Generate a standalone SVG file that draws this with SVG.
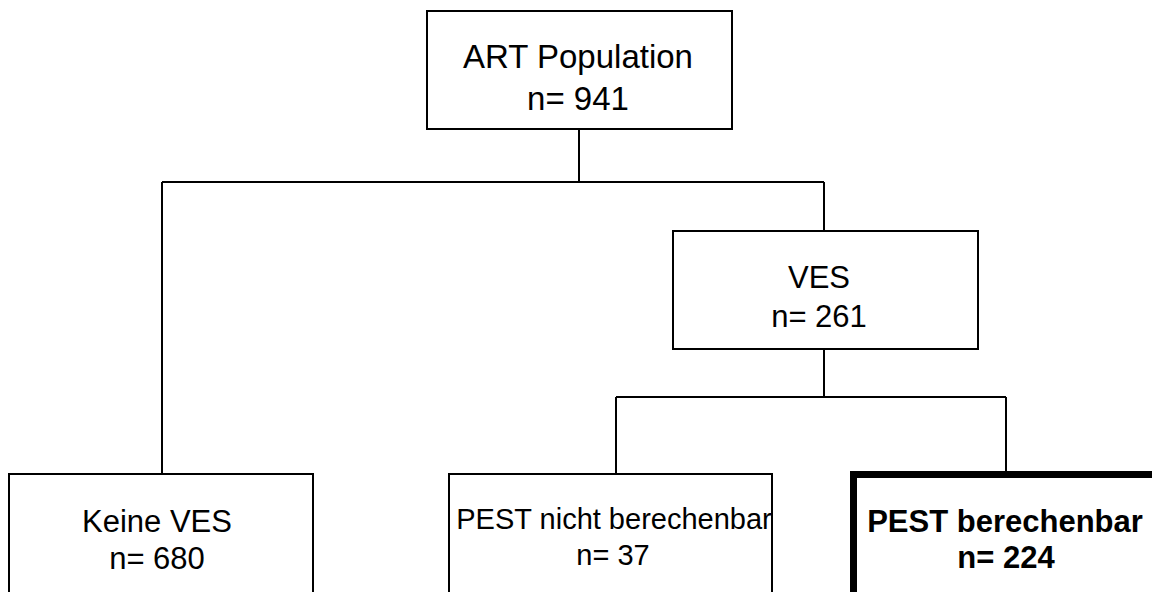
<svg xmlns="http://www.w3.org/2000/svg" width="1152" height="592" viewBox="0 0 1152 592">
<style>
.box{fill:#fff;stroke:#000;stroke-width:2}
.thick{fill:#fff;stroke:#000;stroke-width:7}
.conn{fill:none;stroke:#000;stroke-width:2}
text{font-family:"Liberation Sans",Arial,sans-serif;fill:#000;text-anchor:middle}
</style>
<rect width="1152" height="592" fill="#fff"/>
<g id="connectors">
<path class="conn" d="M579,130 V182 M162,182 H824 M162,182 V474 M824,182 V231"/>
<path class="conn" d="M824,349 V397 M616,397 H1006 M616,397 V474 M1006,397 V471"/>
</g>
<g id="art">
<rect class="box" x="427" y="11" width="305" height="118"/>
<text x="578" y="68" font-size="33">ART Population</text>
<text x="578" y="110" font-size="33">n= 941</text>
</g>
<g id="ves">
<rect class="box" x="673" y="231" width="305" height="118"/>
<text x="819" y="288" font-size="31">VES</text>
<text x="819" y="327" font-size="31">n= 261</text>
</g>
<g id="keine">
<rect class="box" x="9" y="474" width="304" height="140"/>
<text x="157" y="532" font-size="31">Keine VES</text>
<text x="157" y="569" font-size="31">n= 680</text>
</g>
<g id="pestnicht">
<rect class="box" x="449" y="474" width="323" height="140"/>
<text x="614" y="529" font-size="29">PEST nicht berechenbar</text>
<text x="613" y="565" font-size="29">n= 37</text>
</g>
<g id="pest">
<rect class="thick" x="853.5" y="474.5" width="320" height="140"/>
<text x="1005" y="532" font-size="31" font-weight="bold">PEST berechenbar</text>
<text x="1006" y="568" font-size="31" font-weight="bold">n= 224</text>
</g>
</svg>
